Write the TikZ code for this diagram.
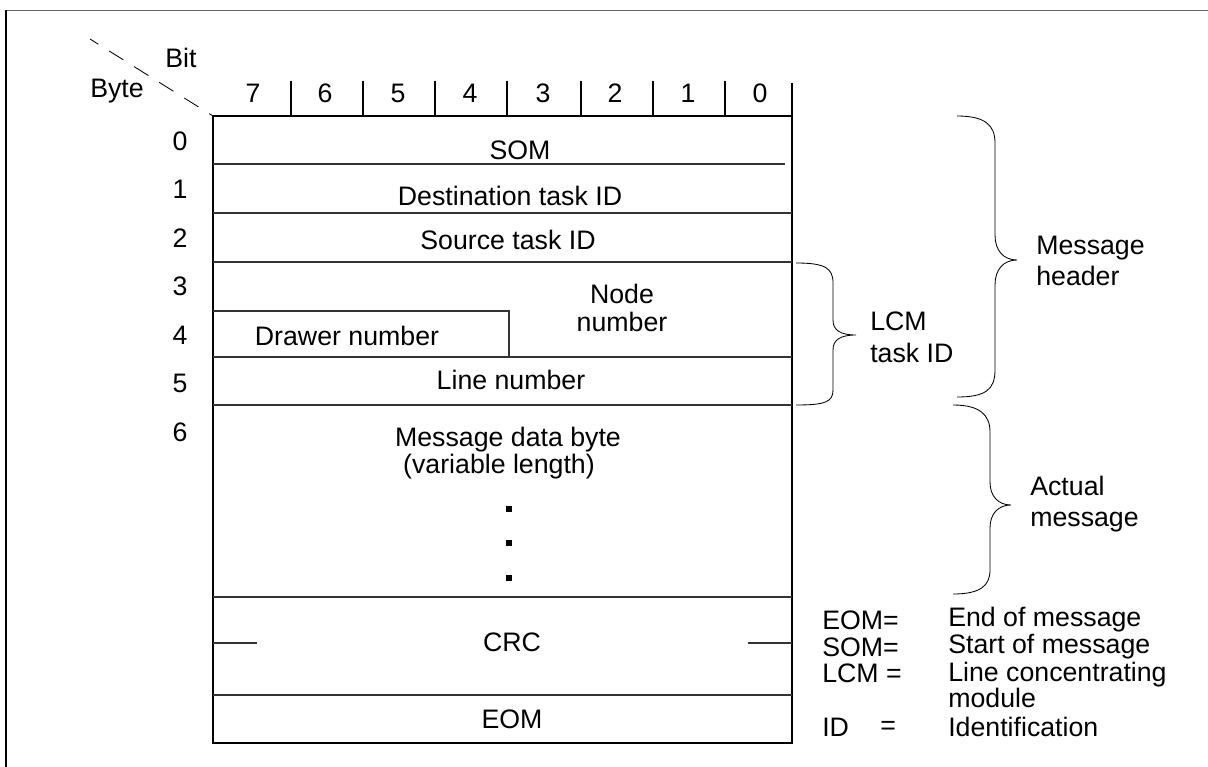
\documentclass[tikz,border=0pt]{standalone}
\usepackage{fontspec}
\setmainfont{Liberation Sans}
\begin{document}
\begin{tikzpicture}[x=0.025cm, y=-0.025cm,
  every node/.style={font=\fontsize{19}{19.5}\selectfont, inner sep=0pt},
  boxline/.style={line width=1.4pt},
  rowline/.style={line width=0.9pt, black!80},
  braceline/.style={line width=0.6pt},
  datadot/.style={rectangle, fill, minimum size=0.13cm}]
  \useasboundingbox (0,0) rectangle (1208,767);
  % Frame
  \draw[line width=1.2pt, black!60] (6,10.5) -- (1208,10.5);
  \draw[boxline] (6,10.5) -- (6,767);
  % Corner
  \draw[line width=0.6pt, dash pattern=on 12pt off 9pt, dash phase=5pt] (90,39) -- (213,116);
  \node (bit) at (181,58) {Bit};
  \node (byte) at (117,91) {Byte};
  % Bit numbers
  \node (b7) at (253,93) {7};
  \node (b6) at (325,93) {6};
  \node (b5) at (398,93) {5};
  \node (b4) at (470,93) {4};
  \node (b3) at (543,93) {3};
  \node (b2) at (615,93) {2};
  \node (b1) at (688,93) {1};
  \node (b0) at (760,93) {0};
  \draw[boxline] (291,81) -- (291,116);
  \draw[boxline] (363,81) -- (363,116);
  \draw[boxline] (435,81) -- (435,116);
  \draw[boxline] (507,81) -- (507,116);
  \draw[boxline] (581,81) -- (581,116);
  \draw[boxline] (653,81) -- (653,116);
  \draw[boxline] (725,81) -- (725,116);
  % Byte numbers
  \node (r0) at (180,141) {0};
  \node (r1) at (180,189) {1};
  \node (r2) at (180,238) {2};
  \node (r3) at (180,286) {3};
  \node (r4) at (180,335) {4};
  \node (r5) at (180,383) {5};
  \node (r6) at (180,432) {6};
  % Box
  \draw[boxline] (792,83) -- (792,743) -- (213,743) -- (213,116) -- (792,116);
  \draw[rowline] (213,164) -- (785,164);
  \draw[rowline] (213,213) -- (792,213);
  \draw[rowline] (213,262) -- (792,262);
  \draw[rowline] (213,311) -- (509,311) -- (509,357);
  \draw[rowline] (213,357) -- (792,357);
  \draw[rowline] (213,405) -- (792,405);
  \draw[rowline] (213,597) -- (792,597);
  \draw[rowline] (213,643) -- (257,643);
  \draw[rowline] (748,643) -- (792,643);
  \draw[rowline] (213,695) -- (792,695);
  % Fields
  \node (som) at (520,150) {SOM};
  \node (dest) at (510,196) {Destination task ID};
  \node (src) at (508,240) {Source task ID};
  \node (node-no) [align=center] at (622,308) {Node\\[1pt]number};
  \node (drawer) at (347,336) {Drawer number};
  \node (line-no) at (511,380) {Line number};
  \node (data) at (508,440) {Message data byte};
  \node (data-len) at (499,467) {(variable length)};
  \node (dot1) [datadot] at (509,509) {};
  \node (dot2) [datadot] at (509,543) {};
  \node (dot3) [datadot] at (509,578) {};
  \node (crc) at (512,642) {CRC};
  \node (eom) at (512,719) {EOM};
  % Braces
  \draw[braceline] (796,263) .. controls (825,263) and (833,268) .. (833,283) -- (833,320)
    .. controls (833,330) and (840,335) .. (856,335)
    .. controls (840,335) and (833,340) .. (833,350) -- (833,390)
    .. controls (833,402) and (825,405) .. (796,405);
  \draw[braceline] (957,116) .. controls (985,116) and (995,125) .. (995,143) -- (995,235)
    .. controls (995,250) and (1003,260) .. (1017,260)
    .. controls (1003,260) and (995,270) .. (995,285) -- (995,370)
    .. controls (995,390) and (985,397) .. (957,397);
  \draw[braceline] (953,405) .. controls (980,405) and (990,415) .. (990,432) -- (990,482)
    .. controls (990,496) and (998,505) .. (1011,505)
    .. controls (998,505) and (990,514) .. (990,528) -- (990,570)
    .. controls (990,586) and (980,594) .. (953,594);
  \node (lcm-id) [align=left, anchor=west] at (870,337) {LCM\\[3pt]task ID};
  \node (msg-header) [align=left, anchor=west] at (1036,261) {Message\\[3pt]header};
  \node (actual-msg) [align=left, anchor=west] at (1030,504) {Actual\\[3pt]message};
  % Legend
  \node (eom-key) [anchor=west] at (822,620) {EOM=};
  \node (eom-def) [anchor=west] at (948,620) {End of message};
  \node (som-key) [anchor=west] at (822,647) {SOM=};
  \node (som-def) [anchor=west] at (948,647) {Start of message};
  \node (lcm-key) [anchor=west] at (822,673) {LCM =};
  \node (lcm-def) [anchor=west] at (948,675) {Line concentrating};
  \node (lcm-def2) [anchor=west] at (948,698) {module};
  \node (id-key) [anchor=west] at (822,727) {ID};
  \node (id-eq) [anchor=west] at (880,728) {=};
  \node (id-def) [anchor=west] at (948,727) {Identification};
\end{tikzpicture}
\end{document}
